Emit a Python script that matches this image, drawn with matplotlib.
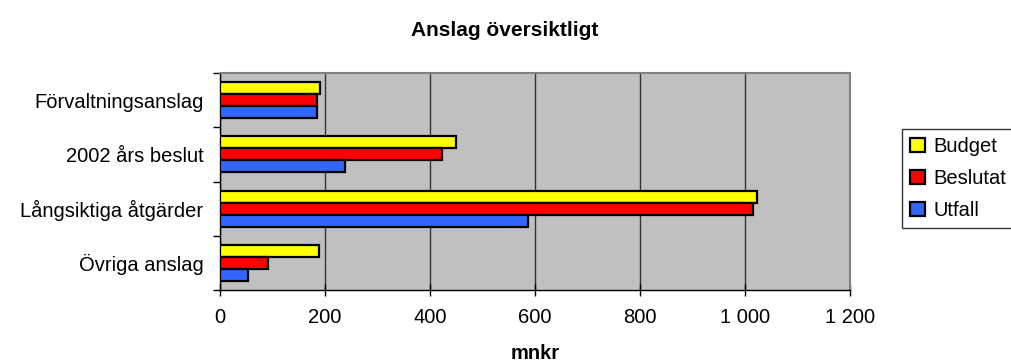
import matplotlib.pyplot as plt
from matplotlib.patches import Patch
from matplotlib.ticker import FixedLocator, FuncFormatter
import numpy as np

plt.rcParams["font.family"] = ["Liberation Sans", "DejaVu Sans"]

categories = ["Förvaltningsanslag", "2002 års beslut", "Långsiktiga åtgärder", "Övriga anslag"]
budget = [190, 449, 1022, 188]
beslutat = [184, 423, 1015, 91]
utfall = [184, 239, 586, 53]
series = [("Budget", budget, "#FFFF00"),
          ("Beslutat", beslutat, "#FF0000"),
          ("Utfall", utfall, "#3366FF")]
xticks = [0, 200, 400, 600, 800, 1000, 1200]

FS = 14.5

fig = plt.figure(figsize=(10.11, 3.63), dpi=100)
ax = fig.add_axes([0.2176, 0.2011, 0.6231, 0.5978])
ax.set_facecolor("#C0C0C0")

y = np.arange(len(categories))
h = 0.22
for i, (name, vals, col) in enumerate(series):
    ax.barh(y + (i - 1) * h, vals, height=h, color=col,
            edgecolor="black", linewidth=1.6, zorder=3)

ax.set_xlim(0, 1200)
ax.set_ylim(len(categories) - 0.5, -0.5)
ax.set_xticks(xticks)
ax.xaxis.set_major_formatter(FuncFormatter(lambda v, p: f"{int(v):,}".replace(",", " ")))
ax.grid(axis="x", color="#333333", linewidth=1, zorder=1)

# category labels at group centres, tick marks on the group boundaries
ax.set_yticks(y)
ax.set_yticklabels(categories)
ax.yaxis.set_minor_locator(FixedLocator(np.arange(-0.5, len(categories), 1.0)))
ax.tick_params(axis="y", which="major", length=0, pad=12, labelsize=FS)
ax.tick_params(axis="y", which="minor", length=5, width=1, direction="out")
ax.tick_params(axis="x", length=8, width=1, direction="inout", pad=9, labelsize=FS)

for s in ["top", "right"]:
    ax.spines[s].set_color("#808080")
    ax.spines[s].set_linewidth(1.5)
for s in ["left", "bottom"]:
    ax.spines[s].set_color("black")
    ax.spines[s].set_linewidth(1)

ax.set_xlabel("mnkr", fontsize=FS, fontweight="bold", labelpad=12)
fig.text(0.499, 0.917, "Anslag översiktligt", ha="center", va="center",
         fontsize=15, fontweight="bold")

handles = [Patch(facecolor=c, edgecolor="black", linewidth=1.6, label=n) for n, _, c in series]
leg = fig.legend(handles=handles, loc="upper left", bbox_to_anchor=(0.892, 0.645),
                 frameon=True, fancybox=False, fontsize=FS, handlelength=0.75,
                 handleheight=0.75, handletextpad=0.4, borderpad=0.4, labelspacing=0.65,
                 borderaxespad=0)
leg.get_frame().set_edgecolor("black")
leg.get_frame().set_linewidth(1)

fig.savefig("out.png", dpi=100)
